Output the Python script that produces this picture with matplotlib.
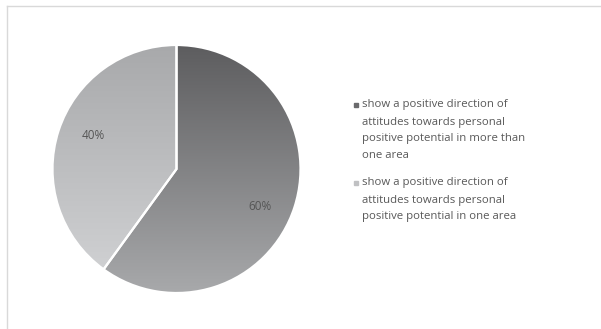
import numpy as np
import matplotlib.pyplot as plt
from matplotlib.colors import LinearSegmentedColormap
from matplotlib.lines import Line2D

# data
labels = ['show a positive direction of\nattitudes towards personal\npositive potential in more than\none area',
          'show a positive direction of\nattitudes towards personal\npositive potential in one area']
values = [60, 40]
pct_labels = ['60%', '40%']
grad_top = ['#5d5d5f', '#a8a9ab']
grad_bottom = ['#a8a9ab', '#d3d4d6']
legend_colors = ['#6a6a6c', '#c0c1c3']

plt.rcParams['font.family'] = ['Open Sans', 'DejaVu Sans']

W, H = 601, 329
fig = plt.figure(figsize=(W / 100, H / 100), dpi=100)
fig.patch.set_facecolor('white')

# chart border (light gray)
fig.add_artist(Line2D([7/W, 1], [1 - 6/H, 1 - 6/H], color='#d9d9d9', lw=1.0))
fig.add_artist(Line2D([7/W, 7/W], [0, 1 - 6/H], color='#d9d9d9', lw=1.0))

ax = fig.add_axes([52.5/W, 36/H, 248/W, 248/H])
wedges, _ = ax.pie(values, startangle=90, counterclock=False, radius=1,
                   wedgeprops=dict(edgecolor='white', linewidth=1.6, facecolor='none'))
ax.set_xlim(-1, 1)
ax.set_ylim(-1, 1)
ax.set_aspect('equal')
ax.axis('off')

grad = np.linspace(0, 1, 256).reshape(-1, 1)
for i, w in enumerate(wedges):
    cmap = LinearSegmentedColormap.from_list('g%d' % i, [grad_top[i], grad_bottom[i]])
    im = ax.imshow(grad, cmap=cmap, extent=[-1, 1, -1, 1], origin='upper',
                   aspect='auto', zorder=0)
    im.set_clip_path(w)
    w.set_zorder(2)

# percentage labels
ax.text(0.67, -0.3, pct_labels[0], ha='center', va='center', fontsize=8.5, color='#555555')
ax.text(-0.67, 0.27, pct_labels[1], ha='center', va='center', fontsize=8.5, color='#555555')

# legend, marker aligned with the first line of each entry
line_h = 17
y0 = 105
for i, (lab, c) in enumerate(zip(labels, legend_colors)):
    fig.add_artist(Line2D([356/W], [1 - y0/H], marker='s', ls='none',
                          markersize=3.5, color=c))
    for j, ln in enumerate(lab.split('\n')):
        fig.text(362/W, 1 - (y0 + j * line_h)/H, ln, ha='left', va='center',
                 fontsize=8.2, color='#595959')
    y0 += line_h * (lab.count('\n') + 1) + 10

fig.savefig('out.png', dpi=100)
